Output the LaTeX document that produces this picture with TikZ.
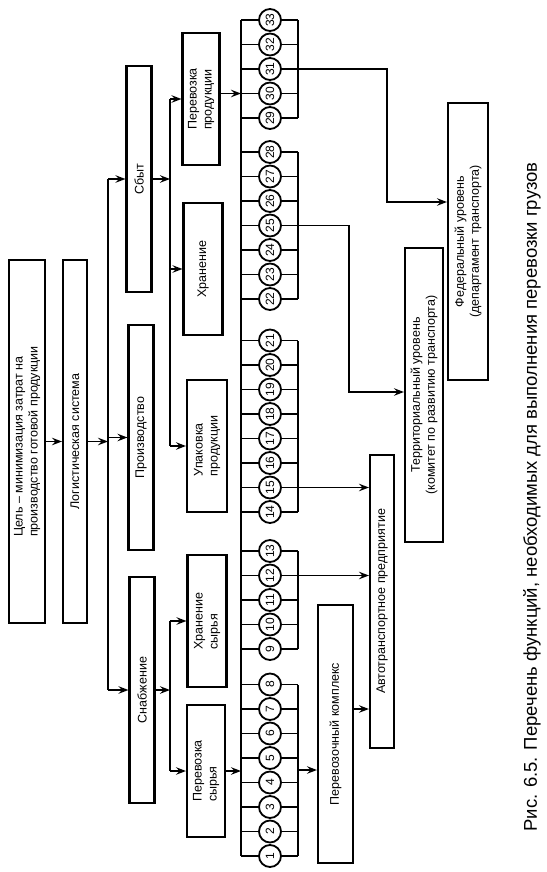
\documentclass[tikz,border=0pt]{standalone}
\usepackage{fontspec}
\setmainfont{Liberation Sans}
\usetikzlibrary{arrows.meta}

\begin{document}
\begin{tikzpicture}[x=1pt,y=-1pt,line width=1.6pt,
    box/.style={draw, line width=2.1pt, rotate=90, inner sep=1pt,
                font=\fontsize{12.5}{15}\selectfont},
    fn/.style={draw, circle, line width=1.8pt, rotate=90, minimum size=22pt,
               inner sep=0pt, font=\fontsize{12}{12}\selectfont},
    arr/.style={-{Stealth[length=10pt,width=7.5pt,inset=3.5pt]}}]
    \useasboundingbox (0,0) rectangle (546,872);

    % уровни 1-2
    \node[box, minimum width=363pt, minimum height=36pt, align=left] (goal) at (27,441.5)
        {Цель – минимизация затрат на\\производство готовой продукции};
    \node[box, minimum width=363pt, minimum height=24pt] (logsys) at (75,441.5) {Логистическая система};
    \draw[arr] (goal.south) -- (logsys.north);

    % подсистемы
    \coordinate (b1) at (108,0);
    \node[box, minimum width=226pt, minimum height=25pt] (sbyt) at (139,179) {Сбыт};
    \node[box, minimum width=225pt, minimum height=25pt] (proizv) at (141,437.5) {Производство};
    \node[box, minimum width=226pt, minimum height=25pt] (snab) at (142,690) {Снабжение};
    \draw[arr] (logsys.south) -- (logsys.south -| b1);
    \draw (sbyt.north -| b1) -- (snab.north -| b1);
    \foreach \n in {sbyt,proizv,snab}
        \draw[arr] (\n.north -| b1) -- (\n.north);

    % функции подсистем
    \coordinate (b2) at (170,0);
    \node[box, minimum width=132pt, minimum height=37pt, align=left] (perprod) at (201,99) {Перевозка\\продукции};
    \node[box, minimum width=132pt, minimum height=39pt] (hran) at (203,269) {Хранение};
    \node[box, minimum width=132pt, minimum height=40pt, align=left] (upak) at (207,446) {Упаковка\\продукции};
    \node[box, minimum width=132pt, minimum height=39pt, align=left] (hransyr) at (207,621) {Хранение\\сырья};
    \node[box, minimum width=132pt, minimum height=38pt, align=left] (persyr) at (206,771) {Перевозка\\сырья};
    \draw (perprod.north -| b2) -- (upak.north -| b2);
    \draw (hransyr.north -| b2) -- (persyr.north -| b2);
    \draw[arr] (sbyt.south) -- (sbyt.south -| b2);
    \draw[arr] (snab.south) -- (snab.south -| b2);
    \foreach \n in {perprod,hran,upak,hransyr,persyr}
        \draw[arr] (\n.north -| b2) -- (\n.north);

    % перечень функций 1-33
    \coordinate (bus) at (241,0);
    \coordinate (rl) at (298,0);
    \foreach \a/\b/\ya in {1/8/856,9/13/649,14/21/512,22/28/299,29/33/118}{
        \foreach \k in {\a,...,\b}{
            \pgfmathsetmacro{\yk}{\ya-(\k-\a)*24.5}
            \node[fn] (f\k) at (270,\yk) {\k};
            \draw (f\k.north -| bus) -- (f\k.north);
            \draw (f\k.south) -- (f\k.south -| rl);
        }
        \draw (f\a.south -| rl) -- (f\b.south -| rl);
    }
    \draw (f33.north -| bus) -- (f1.north -| bus);
    \draw[arr] (perprod.south |- f30) -- (f30 -| bus);
    \draw[arr] (persyr.south) -- (persyr.south -| bus);

    % исполнители
    \node[box, minimum width=258pt, minimum height=35pt] (perk) at (335.5,734) {Перевозочный комплекс};
    \node[box, minimum width=293pt, minimum height=24pt] (atp) at (382,601.5) {Автотранспортное предприятие};
    \node[box, minimum width=294pt, minimum height=38pt, align=center] (terr) at (424,395)
        {Территориальный уровень\\(комитет по развитию транспорта)};
    \node[box, minimum width=277pt, minimum height=40pt, align=center] (fed) at (468,241.5)
        {Федеральный уровень\\(департамент транспорта)};

    \coordinate (kp) at (298,770);
    \draw[arr] (kp) -- (kp -| perk.north);
    \draw[arr] (perk.south |- f7) -- (atp.north |- f7);
    \draw[arr] (f12.south) -- (f12.south -| atp.north);
    \draw[arr] (f15.south) -- (f15.south -| atp.north);
    \coordinate (kt) at (349,392);
    \draw[arr] (f25.south) -| (kt) -- (kt -| terr.north);
    \coordinate (kf) at (387,202);
    \draw[arr] (f31.south) -| (kf) -- (kf -| fed.north);

    \node[rotate=90, font=\fontsize{18.5}{18.5}\selectfont] (cap) at (532,497)
        {Рис. 6.5. Перечень функций, необходимых для выполнения перевозки грузов};
\end{tikzpicture}
\end{document}
